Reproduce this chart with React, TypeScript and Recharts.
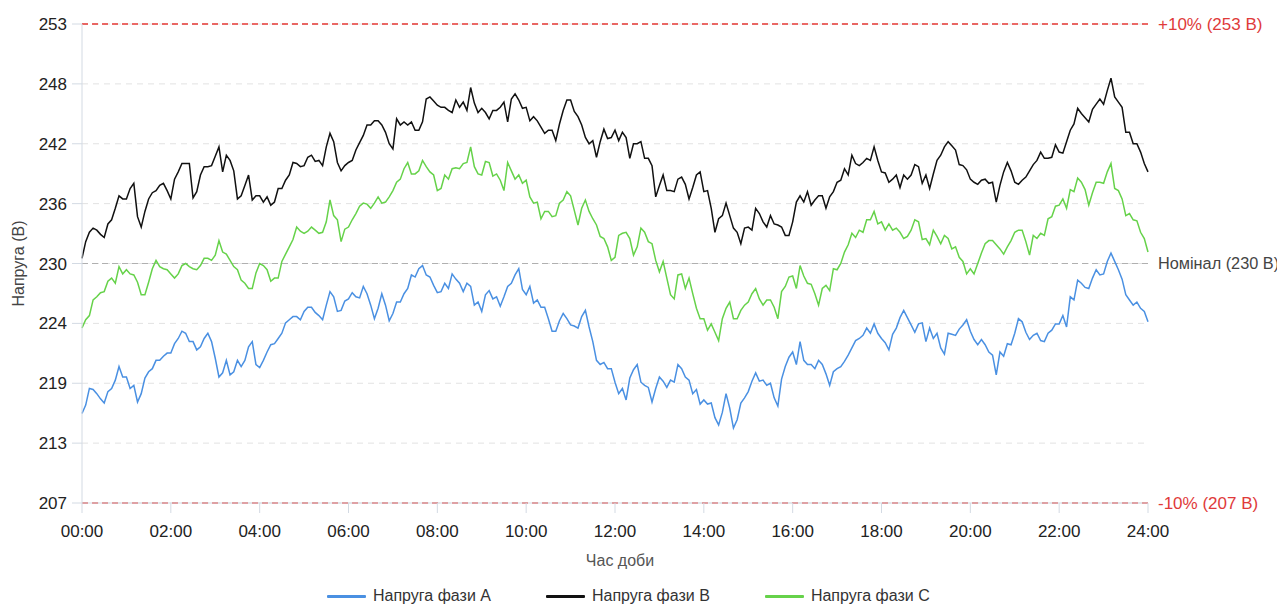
import React from 'react';
import { LineChart, Line, XAxis, YAxis, CartesianGrid, ReferenceLine, Legend } from 'recharts';

const STEP_MINUTES = 5;

const phaseA = [
  215.6, 216.4, 218.0, 217.9, 217.5, 217.0, 216.6, 217.7, 218.0, 218.8, 220.1, 219.1, 219.1, 218.0, 218.3, 216.7, 217.5, 219.0, 219.6, 219.9, 220.7, 220.7, 221.1, 221.4, 221.4, 222.3, 222.8, 223.5, 223.3, 222.5, 222.5, 221.7, 222.0, 222.8, 223.3, 222.5, 220.9, 219.1, 219.5, 220.7, 219.3, 219.6, 220.7, 220.1, 220.7, 222.0, 222.5, 220.3, 220.0,
  220.7, 221.5, 222.2, 222.3, 222.8, 223.3, 224.3, 224.6, 224.9, 224.9, 224.6, 225.4, 225.8, 225.8, 225.3, 225.0, 224.6, 226.0, 227.3, 226.8, 225.4, 225.5, 226.4, 226.6, 227.2, 226.8, 226.7, 227.8, 227.1, 226.0, 224.7, 225.7, 227.1, 226.0, 224.5, 225.2, 226.3, 226.3, 227.1, 227.6, 228.9, 228.7, 229.5, 229.8, 228.9, 228.7, 227.9, 227.2,
  227.3, 228.1, 227.6, 229.0, 228.5, 228.1, 227.3, 228.1, 227.8, 226.0, 226.3, 225.4, 227.0, 227.4, 226.6, 226.8, 225.9, 226.8, 227.8, 228.1, 228.9, 229.5, 227.5, 227.0, 227.8, 226.2, 226.5, 225.8, 225.8, 224.7, 223.5, 223.5, 224.5, 225.2, 224.7, 224.1, 224.0, 223.8, 224.9, 225.5, 223.9, 222.5, 220.7, 220.3, 220.5, 219.9, 219.9, 218.6,
  217.5, 218.0, 216.9, 219.0, 219.8, 220.3, 218.6, 218.3, 218.1, 216.7, 218.0, 219.1, 218.7, 218.1, 218.8, 218.6, 220.3, 219.9, 219.1, 218.8, 217.5, 217.9, 216.5, 216.9, 216.5, 216.6, 215.2, 214.5, 215.7, 217.5, 216.1, 214.2, 215.0, 216.6, 217.1, 217.7, 218.7, 219.5, 218.7, 218.8, 218.3, 218.5, 217.1, 216.3, 218.9, 220.1, 221.0, 221.5,
  220.3, 222.5, 220.7, 220.3, 220.3, 219.9, 220.7, 220.3, 219.4, 218.3, 219.6, 219.9, 220.1, 220.6, 221.2, 221.9, 222.6, 222.8, 223.1, 223.8, 223.3, 224.2, 223.3, 222.8, 222.4, 221.7, 223.2, 223.8, 224.8, 225.5, 224.8, 224.1, 223.4, 224.2, 224.3, 222.5, 223.8, 222.8, 223.3, 221.9, 221.3, 223.3, 223.2, 223.1, 223.7, 224.1, 224.6, 223.5,
  222.7, 222.2, 222.7, 222.2, 221.5, 221.2, 219.3, 221.5, 221.1, 222.3, 222.2, 223.3, 224.7, 224.4, 223.4, 222.7, 223.1, 223.3, 222.6, 222.5, 223.3, 223.6, 224.2, 224.2, 225.0, 223.9, 226.8, 226.5, 228.4, 228.1, 227.7, 227.6, 228.6, 229.4, 228.9, 229.0, 230.2, 231.0, 230.2, 229.4, 228.5, 227.0, 226.5, 226.0, 226.3, 225.7, 225.4, 224.4,
];

const phaseB = [
  230.5, 232.1, 233.0, 233.4, 233.2, 232.8, 232.5, 233.8, 234.2, 235.3, 236.5, 236.2, 236.2, 237.2, 237.7, 234.5, 233.5, 235.0, 236.2, 236.8, 237.0, 237.5, 237.7, 237.0, 236.2, 238.1, 238.8, 239.6, 239.6, 239.6, 236.3, 236.9, 238.5, 239.3, 239.3, 239.4, 240.3, 241.2, 238.8, 240.4, 239.9, 238.9, 236.2, 236.5, 237.5, 238.5, 236.1, 236.5, 236.5,
  235.9, 236.4, 235.6, 235.9, 237.2, 237.2, 238.0, 238.5, 239.7, 239.6, 239.3, 239.4, 240.2, 240.4, 239.8, 239.9, 239.4, 241.2, 242.5, 241.7, 239.7, 238.9, 239.4, 239.7, 239.9, 240.9, 241.6, 242.3, 243.3, 243.3, 243.7, 243.7, 243.3, 242.6, 241.5, 241.0, 243.9, 243.3, 243.6, 243.3, 243.6, 242.8, 242.8, 243.6, 245.8, 246.0, 245.6, 245.2,
  245.0, 245.0, 244.7, 244.5, 245.7, 245.0, 245.5, 244.7, 246.9, 245.4, 244.5, 244.9, 244.5, 243.9, 244.7, 244.7, 245.0, 245.5, 243.6, 245.8, 246.3, 245.7, 244.9, 245.0, 243.7, 244.1, 243.7, 243.1, 242.5, 242.8, 242.8, 241.8, 243.4, 244.7, 245.7, 245.7, 244.6, 244.1, 243.3, 242.1, 241.5, 241.8, 240.2, 241.7, 242.9, 242.0, 242.1, 242.8,
  241.8, 242.6, 242.1, 240.1, 241.5, 241.5, 241.7, 240.1, 240.1, 239.4, 236.4, 237.5, 238.5, 237.0, 237.0, 236.9, 238.1, 238.3, 237.6, 236.2, 237.3, 238.5, 238.8, 236.9, 237.0, 235.3, 233.0, 234.3, 234.6, 235.8, 234.6, 233.4, 233.0, 231.9, 233.4, 233.5, 233.2, 235.3, 234.8, 234.0, 233.5, 234.6, 233.8, 233.7, 233.5, 232.7, 232.7, 234.0,
  235.9, 236.5, 235.9, 236.9, 235.6, 236.1, 236.5, 236.5, 235.3, 236.4, 236.9, 237.8, 238.0, 239.1, 238.5, 240.4, 239.6, 239.4, 239.7, 240.1, 239.9, 241.2, 239.9, 238.8, 238.7, 237.8, 238.1, 238.5, 237.3, 238.5, 238.1, 238.5, 239.5, 239.3, 237.7, 238.5, 237.2, 238.6, 239.9, 240.4, 241.2, 241.7, 241.3, 240.9, 239.5, 239.4, 239.0, 238.1,
  237.8, 237.6, 238.0, 238.1, 237.7, 237.8, 235.9, 237.5, 238.8, 239.7, 238.9, 237.8, 237.6, 238.0, 238.3, 238.9, 239.5, 239.9, 240.7, 240.1, 240.1, 240.2, 241.4, 240.7, 240.6, 241.7, 242.8, 243.4, 244.9, 244.4, 244.0, 243.6, 244.8, 245.3, 245.8, 245.3, 246.6, 247.8, 246.0, 245.5, 245.0, 242.6, 242.6, 241.5, 241.5, 240.7, 239.6, 238.8,
];

const phaseC = [
  223.8, 224.6, 225.0, 226.5, 226.8, 227.2, 227.3, 228.3, 228.6, 228.1, 229.7, 229.0, 229.4, 229.0, 228.9, 228.2, 227.0, 227.0, 228.2, 229.5, 230.3, 229.7, 229.5, 229.4, 229.0, 228.6, 229.0, 229.8, 230.0, 229.7, 229.5, 229.4, 229.8, 230.5, 230.5, 230.3, 230.8, 232.2, 231.1, 230.9, 230.3, 229.7, 229.4, 228.4, 228.1, 227.6, 227.6, 229.1, 230.0,
  229.8, 229.4, 228.3, 228.6, 228.6, 230.2, 230.9, 231.6, 232.3, 233.5, 233.1, 232.9, 233.1, 233.5, 233.2, 232.9, 233.0, 234.0, 236.1, 234.6, 234.2, 232.1, 233.3, 233.5, 234.2, 234.8, 235.5, 235.8, 235.7, 235.3, 235.8, 236.4, 235.8, 235.9, 236.4, 237.0, 237.8, 238.1, 239.1, 239.7, 238.6, 238.6, 238.9, 239.9, 239.3, 238.8, 238.5, 237.0,
  237.2, 238.5, 238.1, 239.1, 239.2, 239.1, 239.6, 239.7, 241.2, 239.3, 238.6, 238.5, 239.8, 239.7, 238.4, 238.6, 238.0, 237.0, 239.7, 238.9, 238.1, 238.5, 237.7, 238.0, 236.4, 235.8, 235.9, 234.3, 235.0, 235.0, 234.5, 234.6, 235.8, 236.1, 236.9, 236.5, 235.1, 233.7, 235.3, 236.1, 235.0, 234.3, 233.7, 232.6, 232.4, 231.6, 230.3, 230.6,
  232.7, 232.9, 233.0, 232.4, 230.8, 231.6, 233.4, 233.0, 232.1, 231.9, 230.3, 229.2, 230.2, 228.6, 227.0, 226.6, 228.9, 229.0, 227.6, 228.6, 227.1, 225.7, 224.7, 224.7, 223.6, 224.2, 223.4, 222.6, 224.7, 225.7, 226.3, 224.7, 224.7, 225.5, 226.0, 226.3, 227.1, 227.6, 226.6, 226.0, 226.5, 226.5, 225.8, 224.7, 227.3, 227.8, 228.7, 228.8,
  227.6, 229.8, 228.8, 228.1, 228.0, 227.1, 226.0, 227.6, 227.9, 227.4, 229.5, 229.4, 230.0, 231.1, 231.8, 232.9, 232.5, 233.2, 233.0, 234.2, 234.2, 235.0, 233.8, 234.0, 233.2, 233.8, 233.2, 233.4, 233.0, 232.4, 232.6, 233.2, 234.2, 234.0, 232.3, 232.4, 231.8, 233.2, 232.6, 231.9, 232.7, 232.4, 231.4, 231.6, 230.6, 230.2, 229.0, 229.5,
  229.0, 230.0, 231.0, 231.9, 232.2, 232.2, 231.8, 231.4, 230.9, 231.6, 232.2, 233.0, 233.2, 233.2, 232.1, 230.8, 232.7, 232.4, 232.9, 232.7, 234.3, 234.5, 235.5, 235.6, 236.2, 235.3, 237.1, 236.9, 238.2, 237.8, 237.1, 235.6, 236.8, 237.8, 237.8, 237.7, 238.8, 239.6, 237.2, 237.0, 236.2, 234.6, 234.8, 234.2, 234.1, 233.0, 232.4, 231.1,
];

const xTickValues = [0, 120, 240, 360, 480, 600, 720, 840, 960, 1080, 1200, 1320, 1440];
const xTickLabels = ['00:00', '02:00', '04:00', '06:00', '08:00', '10:00', '12:00', '14:00', '16:00', '18:00', '20:00', '22:00', '24:00'];
const yTickValues = [207, 212.75, 218.5, 224.25, 230, 235.75, 241.5, 247.25, 253];
const yTickLabels = ['207', '213', '219', '224', '230', '236', '242', '248', '253'];

const seriesNames = ['Напруга фази A', 'Напруга фази B', 'Напруга фази C'];
const seriesKeys = ['a', 'b', 'c'];
const seriesColors = ['#4a90e2', '#111111', '#66d24a'];

const upperLimit = 253;
const nominal = 230;
const lowerLimit = 207;
const upperLabel = '+10% (253 В)';
const nominalLabel = 'Номінал (230 В)';
const lowerLabel = '-10% (207 В)';
const yAxisTitle = 'Напруга (В)';
const xAxisTitle = 'Час доби';

const data = phaseA.map((a, i) => ({
  minute: i * STEP_MINUTES,
  a,
  b: phaseB[i],
  c: phaseC[i],
}));

const FONT = '"Liberation Sans", Arial, Helvetica, sans-serif';

const LegendContent = () => (
  <div style={{ display: 'flex', height: 20, alignItems: 'center', paddingLeft: 319, fontFamily: FONT }}>
    {seriesNames.map((name, i) => (
      <div key={name} style={{ display: 'flex', alignItems: 'center', marginRight: 55 }}>
        <div style={{ width: 39, height: 3, background: seriesColors[i], borderRadius: 1 }} />
        <span style={{ marginLeft: 7, fontSize: 16, color: '#333' }}>{name}</span>
      </div>
    ))}
  </div>
);

const YTitle = (props: any) => {
  const vb = props.viewBox || {};
  const x = (vb.x || 0) + 10;
  const y = (vb.y || 0) + (vb.height || 0) / 2;
  return (
    <text x={x} y={y} transform={`rotate(-90 ${x} ${y})`} textAnchor="middle" dominantBaseline="central" fill="#444" fontSize={16} fontFamily={FONT}>
      {yAxisTitle}
    </text>
  );
};

const XTitle = (props: any) => {
  const vb = props.viewBox || {};
  const x = (vb.x || 0) + (vb.width || 0) / 2 + 5;
  const y = (vb.y || 0) + 57;
  return (
    <text x={x} y={y} textAnchor="middle" dominantBaseline="central" fill="#555" fontSize={16} fontFamily={FONT}>
      {xAxisTitle}
    </text>
  );
};

export default function App() {
  return (
    <div style={{ width: 1277, height: 598, fontFamily: FONT }}>
      <LineChart width={1277} height={598} data={data} margin={{ top: 16, right: 137, left: 0, bottom: 0 }}>
        <CartesianGrid vertical={false} stroke="#e2e2e2" strokeDasharray="6 5" />
        <XAxis
          dataKey="minute"
          type="number"
          domain={[0, 1440]}
          ticks={xTickValues}
          tickFormatter={(v: number) => xTickLabels[xTickValues.indexOf(v)]}
          height={83}
          tickSize={10}
          tickMargin={12}
          stroke="#d3dae3"
          tick={{ fill: '#222', fontSize: 17 }}
          label={{ content: XTitle }}
        />
        <YAxis
          domain={[lowerLimit, upperLimit]}
          ticks={yTickValues}
          tickFormatter={(v: number) => yTickLabels[yTickValues.indexOf(v)]}
          width={74}
          tickSize={10}
          tickMargin={5}
          stroke="#d3dae3"
          tick={{ fill: '#222', fontSize: 17 }}
          allowDataOverflow
          label={{ content: YTitle }}
        />
        <ReferenceLine
          y={upperLimit}
          stroke="#e53935"
          strokeWidth={1.5}
          strokeDasharray="6 4"
          label={{ value: upperLabel, position: 'right', fill: '#e03a3a', fontSize: 17, offset: 10 }}
        />
        <ReferenceLine
          y={nominal}
          stroke="#b0b0b0"
          strokeWidth={1.2}
          strokeDasharray="6 4"
          label={{ value: nominalLabel, position: 'right', fill: '#444', fontSize: 16.3, offset: 10 }}
        />
        <ReferenceLine
          y={lowerLimit}
          stroke="#e53935"
          strokeWidth={1.5}
          strokeDasharray="6 4"
          label={{ value: lowerLabel, position: 'right', fill: '#e03a3a', fontSize: 17, offset: 10 }}
        />
        {seriesKeys.map((k, i) => (
          <Line
            key={k}
            type="linear"
            dataKey={k}
            name={seriesNames[i]}
            stroke={seriesColors[i]}
            strokeWidth={1.5}
            dot={false}
            isAnimationActive={false}
          />
        ))}
        <Legend verticalAlign="bottom" content={LegendContent} wrapperStyle={{ left: 0, width: 1277 }} />
      </LineChart>
    </div>
  );
}
